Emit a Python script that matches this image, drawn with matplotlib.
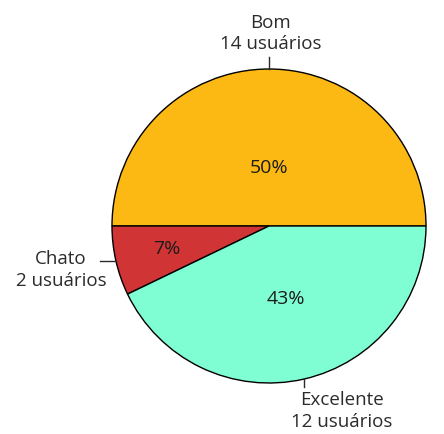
import numpy as np
import matplotlib.pyplot as plt

plt.rcParams['font.family'] = ['Open Sans', 'DejaVu Sans']

# avaliações dos usuários
categorias = ['Bom', 'Chato', 'Excelente']
usuarios = [14, 2, 12]
cores = ['#fdb913', '#d03434', '#7ffed4']

fig = plt.figure(figsize=(4.44, 4.34), dpi=100)
ax = fig.add_axes([0, 0, 1, 1])

wedges, _ = ax.pie(usuarios, colors=cores, startangle=0, counterclock=True,
                   wedgeprops=dict(edgecolor='black', linewidth=1.0))

total = sum(usuarios)
pct_r = [0.37, 0.67, 0.48]                       # distância do percentual
lbl_pos = [(0.01, 1.225), (-1.325, -0.28), (0.465, -1.178)]
txt = '#2b2b2b'

for i, w in enumerate(wedges):
    ang = np.deg2rad((w.theta1 + w.theta2) / 2)
    ca, sa = np.cos(ang), np.sin(ang)
    pct = 100 * usuarios[i] / total
    ax.text(pct_r[i] * ca, pct_r[i] * sa, f'{pct:.0f}%', ha='center', va='center',
            fontsize=14, color='#1c1c1c')
    # linha de ligação até o rótulo
    if categorias[i] == 'Chato':
        ax.plot([ca, ca - 0.1], [sa, sa], color=txt, lw=1)
    else:
        d = 0.076 if sa > 0 else -0.05
        ax.plot([ca, ca], [sa, sa + d], color=txt, lw=1)
    ax.text(lbl_pos[i][0], lbl_pos[i][1], f'{categorias[i]}\n{usuarios[i]} usuários',
            ha='center', va='center', fontsize=13.5, color=txt, linespacing=1.25)

ax.set_xlim(-269 / 157, 175 / 157)
ax.set_ylim(-208 / 157, 226 / 157)
ax.set_aspect('equal')
ax.axis('off')

fig.savefig('out.png', dpi=100)
